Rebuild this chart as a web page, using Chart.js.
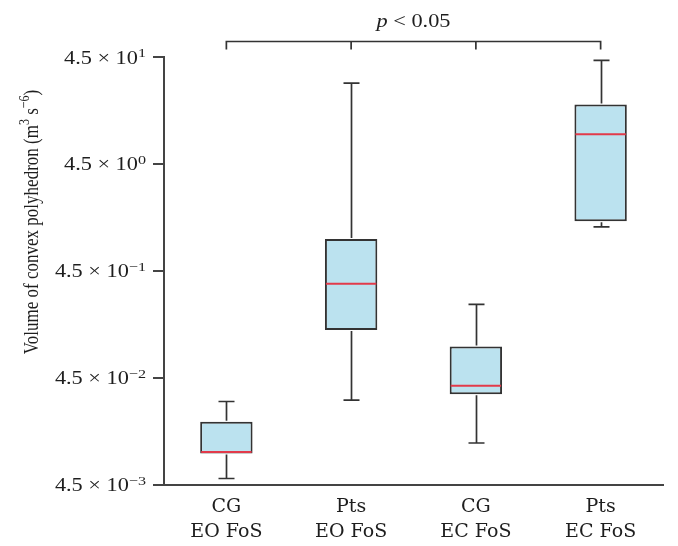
<!DOCTYPE html>
<html>
<head>
<meta charset="utf-8">
<title>Volume of convex polyhedron</title>
<script src="https://cdn.jsdelivr.net/npm/chart.js@4.4.0/dist/chart.umd.min.js"></script>
<style>
    html, body { margin: 0; padding: 0; background: #fff; }
</style>
</head>
<body>
<canvas id="boxChart" width="678" height="546"></canvas>
<script>
// Box plot data (log scale)
const categories = [['CG', 'EO FoS'], ['Pts', 'EO FoS'], ['CG', 'EC FoS'], ['Pts', 'EC FoS']];
const whiskerMin = [0.00512, 0.0277, 0.0110, 1.157];
const quartile1 = [0.00878, 0.1254, 0.0315, 1.307];
const medians = [0.00908, 0.340, 0.0377, 8.54];
const quartile3 = [0.01735, 0.8925, 0.0882, 16.17];
const whiskerMax = [0.0269, 25.66, 0.218, 41.8];

// y axis ticks
const yTickValues = [45, 4.5, 0.45, 0.045, 0.0045];
const yTickExponents = ['1', '0', '\u22121', '\u22122', '\u22123'];
const yTickMantissa = '4.5 \u00d7 10';

const yTitle = [['Volume of convex polyhedron (m', false], ['3', true], [' s', false], ['\u22126', true], [')', false]];
const sigLabel = [['p', 'italic'], [' < 0.05', '']];

// the source figure is stretched sideways, so text is drawn a bit wider
const SX = 1.24;
const SERIF = '"Liberation Serif", "Times New Roman", serif';
const INK = '#333';
const TEXT = '#1e1e1e';
const BOX_FILL = 'rgb(187, 226, 239)';
const MEDIAN_RED = 'rgb(226, 58, 74)';

// draw a run of text pieces, optionally rotated, with sideways stretch
function drawPieces(ctx, pieces, x, y, align, rotated) {
    var total = 0;
    pieces.forEach(function(p) {
        ctx.font = p.style + p.size + 'px ' + SERIF;
        p.w = ctx.measureText(p.text).width;
        total += p.w;
    });
    var cx = align === 'right' ? -total : (align === 'center' ? -total / 2 : 0);
    ctx.save();
    ctx.translate(x, y);
    ctx.scale(rotated ? 1.28 : SX, 1);
    if (rotated) ctx.rotate(-Math.PI / 2);
    ctx.fillStyle = TEXT;
    ctx.textBaseline = 'alphabetic';
    ctx.textAlign = 'left';
    pieces.forEach(function(p) {
        ctx.font = p.style + p.size + 'px ' + SERIF;
        ctx.fillText(p.text, cx, p.dy);
        cx += p.w;
    });
    ctx.restore();
}

const boxExtras = {
    id: 'boxExtras',
    afterDatasetsDraw: function(chart) {
        var ctx = chart.ctx;
        var x = chart.scales.x;
        var y = chart.scales.y;
        var area = chart.chartArea;
        var meta = chart.getDatasetMeta(0);

        ctx.save();
        // whiskers and caps
        ctx.strokeStyle = INK;
        ctx.lineWidth = 1.7;
        meta.data.forEach(function(bar, i) {
            var cx = Math.round(bar.x) + 0.5;
            var top = y.getPixelForValue(whiskerMax[i]);
            var bot = y.getPixelForValue(whiskerMin[i]);
            ctx.beginPath();
            ctx.moveTo(cx, y.getPixelForValue(quartile3[i]) - 1);
            ctx.lineTo(cx, top);
            ctx.moveTo(cx - 8, top);
            ctx.lineTo(cx + 8, top);
            ctx.moveTo(cx, y.getPixelForValue(quartile1[i]) + 1);
            ctx.lineTo(cx, bot);
            ctx.moveTo(cx - 8, bot);
            ctx.lineTo(cx + 8, bot);
            ctx.stroke();
        });

        // medians
        ctx.strokeStyle = MEDIAN_RED;
        ctx.lineWidth = 2;
        meta.data.forEach(function(bar, i) {
            var my = y.getPixelForValue(medians[i]);
            ctx.beginPath();
            ctx.moveTo(bar.x - bar.width / 2 + 1, my);
            ctx.lineTo(bar.x + bar.width / 2 - 1, my);
            ctx.stroke();
        });

        // significance bracket over all groups
        var by = area.top - 15.5;
        ctx.strokeStyle = INK;
        ctx.lineWidth = 1.7;
        ctx.beginPath();
        ctx.moveTo(x.getPixelForValue(0), by + 8);
        ctx.lineTo(x.getPixelForValue(0), by);
        ctx.lineTo(x.getPixelForValue(categories.length - 1), by);
        ctx.lineTo(x.getPixelForValue(categories.length - 1), by + 8);
        for (var k = 1; k < categories.length - 1; k++) {
            ctx.moveTo(x.getPixelForValue(k), by);
            ctx.lineTo(x.getPixelForValue(k), by + 8);
        }
        ctx.stroke();
        ctx.restore();

        var mid = (x.getPixelForValue(0) + x.getPixelForValue(categories.length - 1)) / 2;
        drawPieces(ctx, sigLabel.map(function(s) {
            return { text: s[0], style: s[1] ? s[1] + ' ' : '', size: 18, dy: 0 };
        }), mid, area.top - 30.5, 'center', false);

        // y tick labels with superscript exponents
        yTickValues.forEach(function(v, i) {
            var py = y.getPixelForValue(v);
            drawPieces(ctx, [
                { text: yTickMantissa, style: '', size: 18, dy: 0 },
                { text: yTickExponents[i], style: '', size: 13, dy: -6.5 }
            ], area.left - 18, py + 6.5, 'right', false);
        });

        // rotated y axis title
        var pieces = yTitle.map(function(t) {
            return { text: t[0], style: '', size: t[1] ? 12 : 17, dy: t[1] ? -7 : 0 };
        });
        var len = 0;
        pieces.forEach(function(p) {
            ctx.font = p.size + 'px ' + SERIF;
            len += ctx.measureText(p.text).width;
        });
        drawPieces(ctx, pieces, 37.5, 222 + len / 2, 'left', true);
    }
};

document.addEventListener('DOMContentLoaded', function() {
    const ctx = document.getElementById('boxChart').getContext('2d');

    new Chart(ctx, {
        type: 'bar',
        data: {
            labels: categories,
            datasets: [{
                label: 'Interquartile range',
                data: quartile1.map(function(q, i) { return [q, quartile3[i]]; }),
                backgroundColor: BOX_FILL,
                borderColor: INK,
                borderWidth: 2,
                borderSkipped: false,
                barPercentage: 0.42,
                categoryPercentage: 1
            }]
        },
        options: {
            responsive: false,
            animation: false,
            layout: {
                padding: { top: 57, right: 15, left: 0, bottom: 0 }
            },
            plugins: {
                legend: { display: false },
                tooltip: { enabled: false },
                title: { display: false }
            },
            scales: {
                x: {
                    type: 'category',
                    offset: true,
                    grid: { display: false, drawTicks: false, tickLength: 0 },
                    border: { display: true, color: '#444', width: 2 },
                    ticks: {
                        color: TEXT,
                        padding: 10.5,
                        maxRotation: 0,
                        font: { family: '"DejaVu Serif", serif', size: 19, lineHeight: 1.3 }
                    },
                    afterFit: function(scale) { scale.height = 61.5; }
                },
                y: {
                    type: 'logarithmic',
                    min: 0.0045,
                    max: 45,
                    grid: {
                        drawOnChartArea: false,
                        drawTicks: true,
                        tickLength: 11,
                        color: '#444',
                        lineWidth: 2
                    },
                    border: { display: true, color: '#444', width: 2 },
                    ticks: { display: false },
                    afterBuildTicks: function(scale) {
                        scale.ticks = yTickValues.map(function(v) { return { value: v }; });
                    },
                    afterFit: function(scale) { scale.width = 164; }
                }
            }
        },
        plugins: [boxExtras]
    });
});
</script>
</body>
</html>
